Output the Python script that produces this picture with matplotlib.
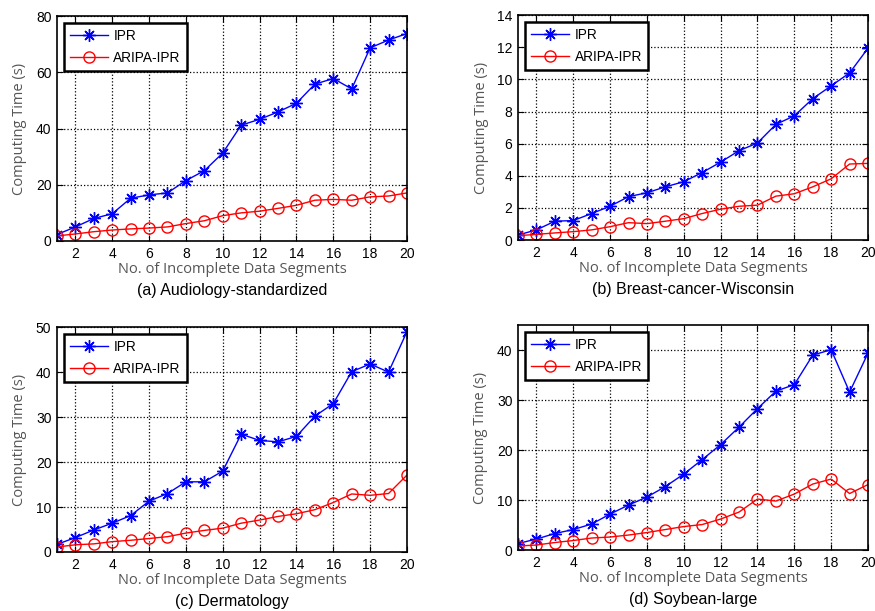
import numpy as np
import matplotlib
matplotlib.use("Agg")
import matplotlib.pyplot as plt

# Data (x = number of incomplete data segments)
segments = list(range(1, 21))

ipr_audiology = [2.3, 5.0, 8.0, 9.7, 15.2, 16.4, 17.1, 21.5, 25.0, 31.3,
                 41.2, 43.3, 45.9, 49.0, 55.8, 57.8, 54.1, 68.7, 71.5, 73.8]
aripa_audiology = [1.8, 2.5, 3.3, 3.9, 4.3, 4.6, 5.0, 6.2, 7.2, 9.0,
                   10.0, 10.6, 11.6, 12.7, 14.5, 14.8, 14.5, 15.7, 16.0, 17.1]

ipr_breast = [0.31, 0.63, 1.17, 1.21, 1.65, 2.1, 2.7, 2.94, 3.31, 3.63,
              4.2, 4.85, 5.56, 6.04, 7.2, 7.73, 8.8, 9.6, 10.4, 11.94]
aripa_breast = [0.27, 0.35, 0.44, 0.52, 0.63, 0.83, 1.08, 1.02, 1.17, 1.33,
                1.65, 1.92, 2.1, 2.17, 2.73, 2.88, 3.31, 3.81, 4.73, 4.77]

ipr_derm = [1.7, 3.2, 4.9, 6.4, 8.1, 11.3, 13.0, 15.6, 15.6, 18.0,
            26.2, 24.8, 24.5, 25.7, 30.2, 33.0, 40.1, 41.8, 40.0, 49.0]
aripa_derm = [1.1, 1.6, 1.8, 2.3, 2.6, 3.0, 3.4, 4.2, 4.8, 5.3,
              6.4, 7.1, 7.9, 8.5, 9.4, 11.0, 12.9, 12.6, 13.0, 17.1]

ipr_soy = [1.3, 2.2, 3.3, 4.1, 5.2, 7.2, 9.0, 10.6, 12.7, 15.2,
           18.1, 21.1, 24.6, 28.3, 31.8, 33.1, 39.0, 40.1, 31.6, 39.4]
aripa_soy = [0.8, 1.0, 1.5, 1.9, 2.4, 2.6, 3.0, 3.5, 4.1, 4.7,
             5.1, 6.2, 7.6, 10.2, 9.8, 11.2, 13.2, 14.2, 11.3, 13.1]

captions = ["(a) Audiology-standardized", "(b) Breast-cancer-Wisconsin",
            "(c) Dermatology", "(d) Soybean-large"]
ylims = [(0, 80), (0, 14), (0, 50), (0, 45)]
yticks = [[0, 20, 40, 60, 80], [0, 2, 4, 6, 8, 10, 12, 14],
          [0, 10, 20, 30, 40, 50], [0, 10, 20, 30, 40]]
series = [(ipr_audiology, aripa_audiology), (ipr_breast, aripa_breast),
          (ipr_derm, aripa_derm), (ipr_soy, aripa_soy)]

plt.rcParams['font.family'] = ['Liberation Sans', 'DejaVu Sans']

fig = plt.figure(figsize=(8.75, 6.11), dpi=100)
positions = [[0.0651, 0.6056, 0.4, 0.368],
             [0.592, 0.6072, 0.4, 0.368],
             [0.0651, 0.0966, 0.4, 0.368],
             [0.592, 0.0998, 0.4, 0.368]]

asterisk = (8, 2, 0)  # MATLAB-style '*' (plus + cross)

for i in range(4):
    ax = fig.add_axes(positions[i])
    ipr, aripa = series[i]
    ax.plot(segments, ipr, "b-", marker=asterisk, markersize=9, linewidth=1,
            markeredgewidth=1, label="IPR")
    ax.plot(segments, aripa, "r-", marker="o", markersize=8, linewidth=1,
            markerfacecolor="none", markeredgewidth=1, label="ARIPA-IPR")
    ax.set_xlim(1, 20)
    ax.set_ylim(*ylims[i])
    ax.set_xticks(range(2, 21, 2))
    ax.set_yticks(yticks[i])
    ax.grid(True, color="black", linestyle=":", linewidth=0.9)
    ax.tick_params(direction="in", labelsize=10, length=4, pad=4,
                   top=True, right=True)
    for s in ax.spines.values():
        s.set_linewidth(1.2)
    ax.set_xlabel("No. of Incomplete Data Segments", fontsize=10.5,
                  color="#555555", family=["Open Sans", "DejaVu Sans"], labelpad=1)
    ax.set_ylabel("Computing Time (s)", fontsize=10.5,
                  color="#555555", family=["Open Sans", "DejaVu Sans"], labelpad=6)
    ax.text(0.5, -0.222, captions[i], transform=ax.transAxes, ha="center",
            va="center", fontsize=11.5)
    leg = ax.legend(loc="upper left", fontsize=9.8, handlelength=2.8,
                    handletextpad=0.4, fancybox=False, framealpha=1,
                    borderaxespad=0.5, borderpad=0.45, labelspacing=0.55)
    leg.get_frame().set_edgecolor("black")
    leg.get_frame().set_linewidth(1.8)

fig.savefig("out.png", dpi=100)
